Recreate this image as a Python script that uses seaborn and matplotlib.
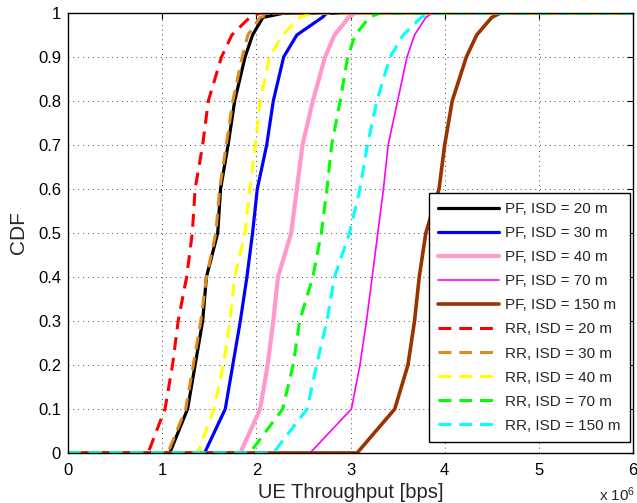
import matplotlib
matplotlib.use("Agg")
import matplotlib.pyplot as plt
import seaborn as sns
import pandas as pd

# CDF levels and throughput values (x 1e6 bps)
cdf_levels = [0.0, 0.0, 0.1, 0.2, 0.3, 0.4, 0.5, 0.6, 0.7, 0.8, 0.9, 0.95, 0.99, 1.0, 1.0]

pf_20  = [0, 1.08, 1.27, 1.35, 1.43, 1.47, 1.59, 1.62, 1.70, 1.77, 1.88, 1.96, 2.07, 2.30, 6]
pf_30  = [0, 1.45, 1.67, 1.75, 1.83, 1.90, 1.96, 2.01, 2.11, 2.18, 2.29, 2.43, 2.70, 2.75, 6]
pf_40  = [0, 1.83, 2.04, 2.12, 2.18, 2.23, 2.37, 2.43, 2.49, 2.60, 2.73, 2.83, 2.98, 3.05, 6]
pf_70  = [0, 2.57, 3.01, 3.10, 3.17, 3.23, 3.29, 3.35, 3.40, 3.50, 3.60, 3.68, 3.80, 3.87, 6]
pf_150 = [0, 3.07, 3.47, 3.61, 3.68, 3.73, 3.80, 3.94, 4.00, 4.08, 4.23, 4.34, 4.50, 4.59, 6]
rr_20  = [0, 0.85, 1.03, 1.11, 1.17, 1.26, 1.32, 1.35, 1.43, 1.49, 1.63, 1.74, 1.93, 2.04, 6]
rr_30  = [0, 1.06, 1.25, 1.33, 1.41, 1.47, 1.57, 1.61, 1.68, 1.75, 1.85, 1.91, 2.04, 2.20, 6]
rr_40  = [0, 1.38, 1.55, 1.65, 1.72, 1.77, 1.88, 1.93, 1.99, 2.04, 2.14, 2.28, 2.46, 2.60, 6]
rr_70  = [0, 1.93, 2.28, 2.39, 2.46, 2.60, 2.69, 2.75, 2.80, 2.89, 2.97, 3.05, 3.20, 3.31, 6]
rr_150 = [0, 2.18, 2.54, 2.64, 2.75, 2.83, 2.99, 3.10, 3.18, 3.28, 3.42, 3.56, 3.75, 3.84, 6]

labels = ["PF, ISD = 20 m", "PF, ISD = 30 m", "PF, ISD = 40 m", "PF, ISD = 70 m",
          "PF, ISD = 150 m", "RR, ISD = 20 m", "RR, ISD = 30 m", "RR, ISD = 40 m",
          "RR, ISD = 70 m", "RR, ISD = 150 m"]
series = [pf_20, pf_30, pf_40, pf_70, pf_150, rr_20, rr_30, rr_40, rr_70, rr_150]
colors = ["#000000", "#0000ff", "#ff99cc", "#ff00ff", "#993300",
          "#ff0000", "#e08a1e", "#ffff00", "#00ff00", "#00ffff"]
widths = [2.3, 2.3, 3.0, 1.2, 2.6, 2.2, 2.2, 2.2, 2.2, 2.2]
styles = ["-"] * 5 + [(0, (4.2, 2.6))] * 5

xticks = [0, 1, 2, 3, 4, 5, 6]
yticks = [0, 0.1, 0.2, 0.3, 0.4, 0.5, 0.6, 0.7, 0.8, 0.9, 1]

sns.set_style("white")
plt.rcParams["font.family"] = ["Liberation Sans", "DejaVu Sans"]
plt.rcParams["mathtext.default"] = "regular"

fig = plt.figure(figsize=(6.37, 5.03), dpi=100)
ax = fig.add_axes([68 / 637, 50 / 503, 565 / 637, 440 / 503])

for lab, xs, c, lw, ls in zip(labels, series, colors, widths, styles):
    df = pd.DataFrame({"x": xs, "y": cdf_levels})
    sns.lineplot(data=df, x="x", y="y", ax=ax, color=c, linewidth=lw,
                 linestyle=ls, label=lab, sort=False, estimator=None)

ax.set_xlim(0, 6)
ax.set_ylim(0, 1)
ax.set_xticks(xticks)
ax.set_xticklabels([str(t) for t in xticks])
ax.set_yticks(yticks)
ax.set_yticklabels(["0"] + [f"{t:g}" for t in yticks[1:-1]] + ["1"])
ax.tick_params(axis="both", direction="in", top=True, right=True, length=4, width=0.8,
               labelsize=12, colors="black")
ax.tick_params(axis="x", pad=7)
ax.tick_params(axis="y", pad=5)
ax.grid(True, linestyle=(0, (1, 4)), color="#444444", linewidth=0.7)
for s in ax.spines.values():
    s.set_color("black")
    s.set_linewidth(1.0)

ax.set_xlabel("UE Throughput [bps]", fontsize=14.5, labelpad=4)
ax.set_ylabel("CDF", fontsize=15, labelpad=7)
fig.text(635 / 637, 1 - 495 / 503, r"x 10$^{6}$", ha="right", va="center", fontsize=11)

leg = ax.legend(loc="lower right", bbox_to_anchor=(0.9947, 0.025), borderaxespad=0,
                fontsize=11, handlelength=4.0, handletextpad=0.4, labelspacing=0.66,
                borderpad=0.6, fancybox=False, framealpha=1, edgecolor="black")
leg.get_frame().set_linewidth(1.0)

fig.savefig("out.png", dpi=100)
